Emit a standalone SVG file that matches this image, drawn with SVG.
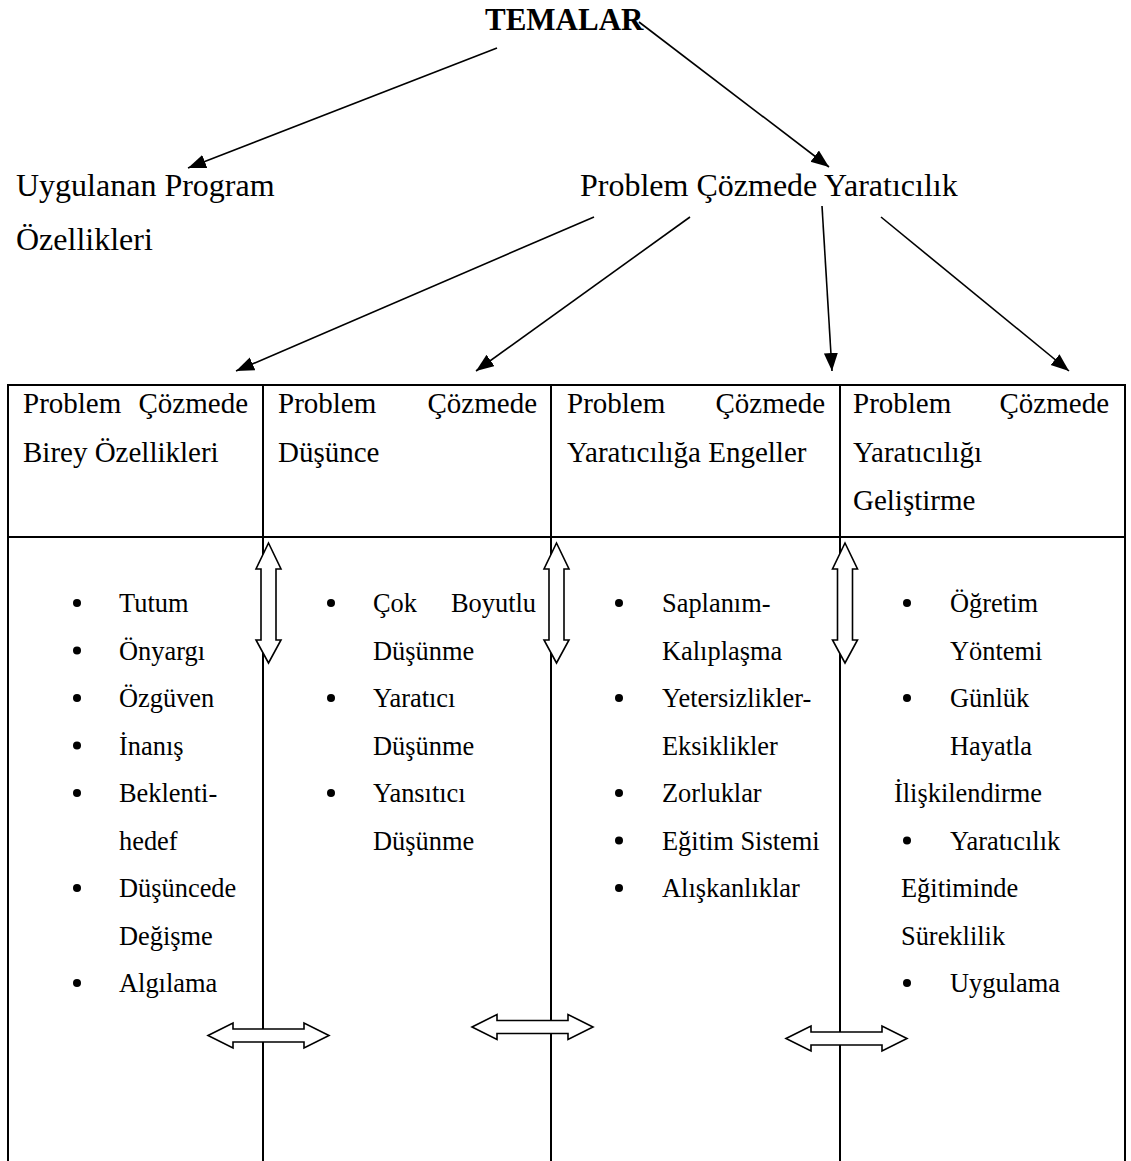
<svg xmlns="http://www.w3.org/2000/svg" width="1131" height="1161" viewBox="0 0 1131 1161">
<defs>
<style>
.t{font-family:"Liberation Serif","Times New Roman",serif;fill:#000}
.top{font-size:32px}
.hd{font-size:29px}
.li{font-size:26.4px}
.title{font-size:31px;font-weight:bold}
.conn{stroke:#000;stroke-width:1.6;fill:none}
.grid{stroke:#000;stroke-width:2;fill:none}
.blk{fill:#fff;stroke:#000;stroke-width:1.6;stroke-linejoin:miter}
.dot{fill:#000}
</style>
<marker id="ah" markerUnits="userSpaceOnUse" markerWidth="20" markerHeight="16" refX="18" refY="7" orient="auto">
<path d="M0,0 L18,7 L0,14 Z" fill="#000"/>
</marker>
<path id="varr" d="M0,0 L12.5,26 L7.5,26 L7.5,97 L12.5,97 L0,120 L-12.5,97 L-7.5,97 L-7.5,26 L-12.5,26 Z"/>
<path id="harr" d="M0,0 L25,-12.5 L25,-6.5 L96,-6.5 L96,-12.5 L121,0 L96,12.5 L96,6.5 L25,6.5 L25,12.5 Z"/>
</defs>
<rect width="1131" height="1161" fill="#fff"/>

<g id="node-temalar"><text class="t title" x="485" y="30">TEMALAR</text></g>
<g id="node-uygulanan"><text class="t top" x="16" y="196">Uygulanan Program</text><text class="t top" x="16" y="250">Özellikleri</text></g>
<g id="node-pcy"><text class="t top" x="580" y="196">Problem Çözmede Yaratıcılık</text></g>

<g id="connectors">
<line class="conn" x1="497" y1="48" x2="188" y2="168" marker-end="url(#ah)"/>
<line class="conn" x1="639" y1="22" x2="829" y2="167" marker-end="url(#ah)"/>
<line class="conn" x1="594" y1="217" x2="236" y2="371" marker-end="url(#ah)"/>
<line class="conn" x1="690" y1="217" x2="476" y2="371" marker-end="url(#ah)"/>
<line class="conn" x1="822" y1="206" x2="832" y2="371" marker-end="url(#ah)"/>
<line class="conn" x1="881" y1="217" x2="1069" y2="371" marker-end="url(#ah)"/>
</g>

<g id="table">
<line class="grid" x1="7" y1="385" x2="1126" y2="385"/>
<line class="grid" x1="7" y1="537" x2="1126" y2="537" stroke-width="2.6"/>
<line class="grid" x1="8" y1="384" x2="8" y2="1161"/>
<line class="grid" x1="263" y1="384" x2="263" y2="1161"/>
<line class="grid" x1="551" y1="384" x2="551" y2="1161"/>
<line class="grid" x1="840" y1="384" x2="840" y2="1161"/>
<line class="grid" x1="1125" y1="384" x2="1125" y2="1161"/>
</g>

<g id="node-col1-head">
<text class="t hd" x="23" y="413">Problem</text><text class="t hd" x="248" y="413" text-anchor="end">Çözmede</text>
<text class="t hd" x="23" y="462">Birey Özellikleri</text>
</g>
<g id="node-col2-head">
<text class="t hd" x="278" y="413">Problem</text><text class="t hd" x="537" y="413" text-anchor="end">Çözmede</text>
<text class="t hd" x="278" y="462">Düşünce</text>
</g>
<g id="node-col3-head">
<text class="t hd" x="567" y="413">Problem</text><text class="t hd" x="825" y="413" text-anchor="end">Çözmede</text>
<text class="t hd" x="567" y="462">Yaratıcılığa Engeller</text>
</g>
<g id="node-col4-head">
<text class="t hd" x="853" y="413">Problem</text><text class="t hd" x="1109" y="413" text-anchor="end">Çözmede</text>
<text class="t hd" x="853" y="462">Yaratıcılığı</text>
<text class="t hd" x="853" y="510">Geliştirme</text>
</g>

<g id="node-col1-list">
<circle class="dot" cx="77" cy="603" r="4"/><text class="t li" x="119" y="612">Tutum</text>
<circle class="dot" cx="77" cy="650.5" r="4"/><text class="t li" x="119" y="659.5">Önyargı</text>
<circle class="dot" cx="77" cy="698" r="4"/><text class="t li" x="119" y="707">Özgüven</text>
<circle class="dot" cx="77" cy="745.5" r="4"/><text class="t li" x="119" y="754.5">İnanış</text>
<circle class="dot" cx="77" cy="793" r="4"/><text class="t li" x="119" y="802">Beklenti-</text>
<text class="t li" x="119" y="849.5">hedef</text>
<circle class="dot" cx="77" cy="888" r="4"/><text class="t li" x="119" y="897">Düşüncede</text>
<text class="t li" x="119" y="944.5">Değişme</text>
<circle class="dot" cx="77" cy="983" r="4"/><text class="t li" x="119" y="992">Algılama</text>
</g>

<g id="node-col2-list">
<circle class="dot" cx="331" cy="603" r="4"/><text class="t li" x="373" y="612">Çok</text><text class="t li" x="536" y="612" text-anchor="end">Boyutlu</text>
<text class="t li" x="373" y="659.5">Düşünme</text>
<circle class="dot" cx="331" cy="698" r="4"/><text class="t li" x="373" y="707">Yaratıcı</text>
<text class="t li" x="373" y="754.5">Düşünme</text>
<circle class="dot" cx="331" cy="793" r="4"/><text class="t li" x="373" y="802">Yansıtıcı</text>
<text class="t li" x="373" y="849.5">Düşünme</text>
</g>

<g id="node-col3-list">
<circle class="dot" cx="619" cy="603" r="4"/><text class="t li" x="662" y="612">Saplanım-</text>
<text class="t li" x="662" y="659.5">Kalıplaşma</text>
<circle class="dot" cx="619" cy="698" r="4"/><text class="t li" x="662" y="707">Yetersizlikler-</text>
<text class="t li" x="662" y="754.5">Eksiklikler</text>
<circle class="dot" cx="619" cy="793" r="4"/><text class="t li" x="662" y="802">Zorluklar</text>
<circle class="dot" cx="619" cy="840.5" r="4"/><text class="t li" x="662" y="849.5">Eğitim Sistemi</text>
<circle class="dot" cx="619" cy="888" r="4"/><text class="t li" x="662" y="897">Alışkanlıklar</text>
</g>

<g id="node-col4-list">
<circle class="dot" cx="907" cy="603" r="4"/><text class="t li" x="950" y="612">Öğretim</text>
<text class="t li" x="950" y="659.5">Yöntemi</text>
<circle class="dot" cx="907" cy="698" r="4"/><text class="t li" x="950" y="707">Günlük</text>
<text class="t li" x="950" y="754.5">Hayatla</text>
<text class="t li" x="894" y="802">İlişkilendirme</text>
<circle class="dot" cx="907" cy="840.5" r="4"/><text class="t li" x="950" y="849.5">Yaratıcılık</text>
<text class="t li" x="901" y="897">Eğitiminde</text>
<text class="t li" x="901" y="944.5">Süreklilik</text>
<circle class="dot" cx="907" cy="983" r="4"/><text class="t li" x="950" y="992">Uygulama</text>
</g>

<g id="block-arrows">
<use href="#varr" class="blk" x="268.5" y="543"/>
<use href="#varr" class="blk" x="556.5" y="543"/>
<use href="#varr" class="blk" x="845" y="543"/>
<use href="#harr" class="blk" x="208" y="1035.5"/>
<use href="#harr" class="blk" x="472" y="1027"/>
<use href="#harr" class="blk" x="786" y="1038.5"/>
</g>
</svg>
